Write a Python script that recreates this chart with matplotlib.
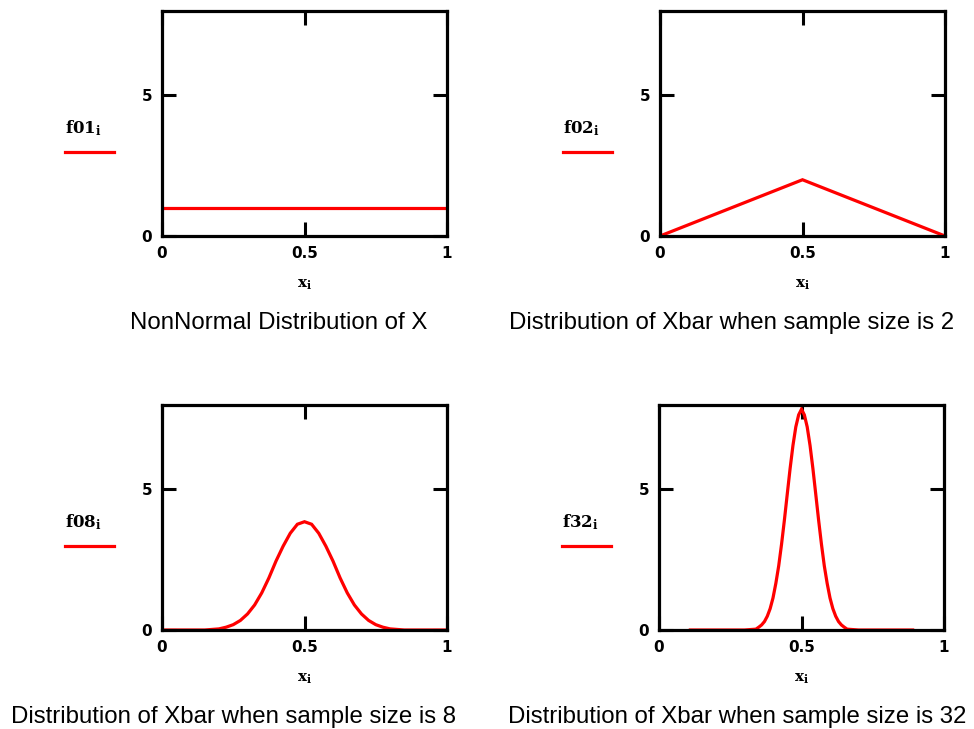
import matplotlib
matplotlib.use("Agg")
import matplotlib.pyplot as plt
from matplotlib.lines import Line2D

plt.rcParams["mathtext.fontset"] = "dejavuserif"

# data
x01 = [0.0, 1.0]
f01 = [1.0, 1.0]

x02 = [0.0, 0.5, 1.0]
f02 = [0.0, 2.0, 0.0]

x08 = [0.0, 0.05, 0.1, 0.15, 0.2, 0.225, 0.25, 0.275, 0.3, 0.325, 0.35, 0.375, 0.4,
       0.425, 0.45, 0.475, 0.5, 0.525, 0.55, 0.575, 0.6, 0.625, 0.65, 0.675, 0.7,
       0.725, 0.75, 0.775, 0.8, 0.85, 0.9, 0.95, 1.0]
f08 = [0.0, 0.0, 0.0, 0.0, 0.04, 0.10, 0.19, 0.34, 0.57, 0.89, 1.32, 1.85, 2.45,
       2.98, 3.44, 3.76, 3.85, 3.76, 3.44, 2.98, 2.45, 1.85, 1.32, 0.89, 0.57,
       0.34, 0.19, 0.10, 0.04, 0.0, 0.0, 0.0, 0.0]

x32 = [0.11, 0.2, 0.3, 0.34, 0.35, 0.36, 0.37, 0.38, 0.39, 0.40, 0.41, 0.42, 0.43, 0.44,
       0.45, 0.46, 0.47, 0.48, 0.49, 0.50, 0.51, 0.52, 0.53, 0.54, 0.55, 0.56,
       0.57, 0.58, 0.59, 0.60, 0.61, 0.62, 0.63, 0.64, 0.65, 0.66, 0.7, 0.8, 0.89]
f32 = [0.0, 0.0, 0.0, 0.03, 0.10, 0.18, 0.30, 0.49, 0.76, 1.14, 1.66, 2.28, 3.05, 3.91,
       4.83, 5.74, 6.56, 7.22, 7.65, 7.85, 7.65, 7.22, 6.56, 5.74, 4.83, 3.91,
       3.05, 2.28, 1.66, 1.14, 0.76, 0.49, 0.30, 0.18, 0.10, 0.03, 0.0, 0.0, 0.0]

names = ["f01", "f02", "f08", "f32"]
titles = ["NonNormal Distribution of X",
          "Distribution of Xbar when sample size is 2",
          "Distribution of Xbar when sample size is 8",
          "Distribution of Xbar when sample size is 32"]
title_x = [0.41, 0.25, 0.25, 0.275]
panels = [(x01, f01), (x02, f02), (x08, f08), (x32, f32)]

W, H = 974, 729
fig = plt.figure(figsize=(W / 100, H / 100), dpi=100)
fig.patch.set_facecolor("white")

# axes boxes in pixels: left, top, right, bottom
boxes = [(162, 11, 447, 236), (660, 11, 945, 236),
         (162, 405, 447, 630), (659, 405, 944, 630)]

for (l, t, r, b), (xs, ys), name, title, tx in zip(boxes, panels, names, titles, title_x):
    ax = fig.add_axes([l / W, 1 - b / H, (r - l) / W, (b - t) / H])
    ax.plot(xs, ys, color="red", lw=2.3, solid_joinstyle="miter")
    ax.set_xlim(0, 1)
    ax.set_ylim(0, 8)
    ax.set_xticks([0, 0.5, 1])
    ax.set_xticklabels(["0", "0.5", "1"])
    ax.set_yticks([0, 5])
    ax.set_yticklabels(["0", "5"])
    ax.tick_params(direction="in", length=10, width=2.2, top=True, right=True,
                   labelsize=11, pad=7)
    for lab in ax.get_xticklabels() + ax.get_yticklabels():
        lab.set_fontweight("bold")
    for sp in ax.spines.values():
        sp.set_linewidth(2.3)

    # trace label with the red sample line, Mathcad style
    ax.text(-0.275, 0.48, r"$\mathbf{%s}_{\mathbf{i}}$" % name, transform=ax.transAxes,
            ha="center", va="center", fontsize=12)
    ax.add_artist(Line2D([-0.34, -0.17], [0.373, 0.373], transform=ax.transAxes,
                         color="red", lw=2.3, clip_on=False))

    ax.text(0.5, -0.215, r"$\mathbf{x}_{\mathbf{i}}$", transform=ax.transAxes,
            ha="center", va="center", fontsize=11)
    ax.text(tx, -0.385, title, transform=ax.transAxes, ha="center", va="center",
            fontsize=17.3, family="Liberation Sans")

fig.savefig("out.png", dpi=100, facecolor="white")
